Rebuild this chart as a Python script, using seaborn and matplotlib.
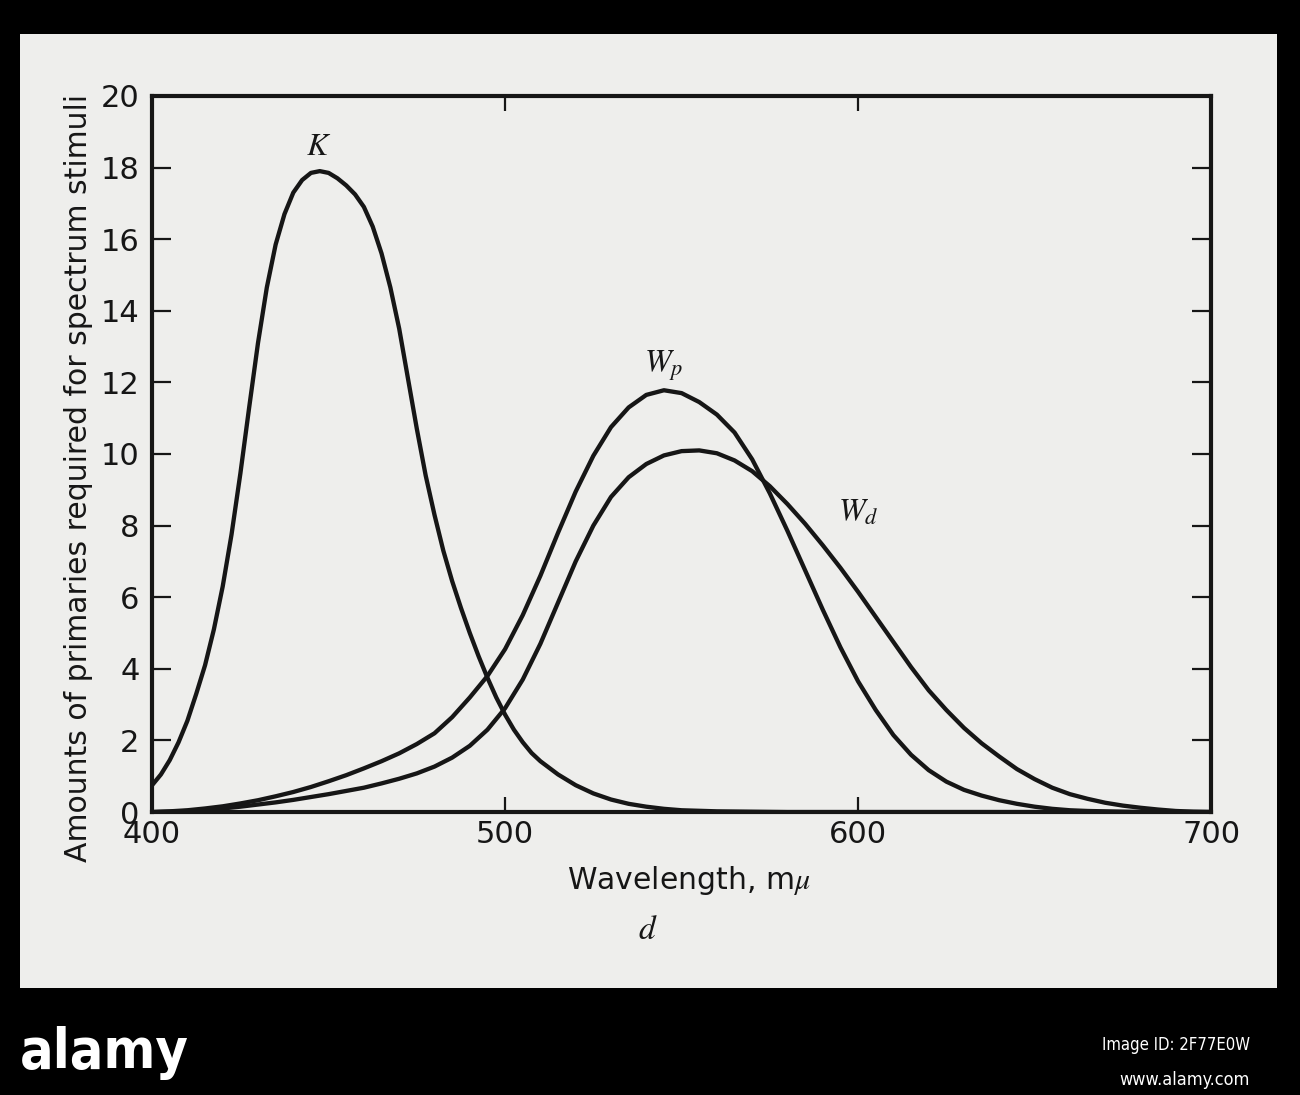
import numpy as np
import pandas as pd
import matplotlib
matplotlib.use("Agg")
import matplotlib.pyplot as plt
import seaborn as sns
from matplotlib.patches import Rectangle

# ---------------- data ----------------
k_wavelength = [400, 402.5, 405, 407.5, 410, 412.5, 415, 417.5, 420, 422.5, 425, 427.5,
                430, 432.5, 435, 437.5, 440, 442.5, 445, 447.5, 450, 452.5, 455, 457.5,
                460, 462.5, 465, 467.5, 470, 472.5, 475, 477.5, 480, 482.5, 485, 487.5,
                490, 492.5, 495, 497.5, 500, 502.5, 505, 507.5, 510, 515, 520, 525, 530,
                535, 540, 545, 550, 560, 570, 580, 600, 650, 700]
k_amount = [0.75, 1.05, 1.45, 1.95, 2.55, 3.3, 4.1, 5.1, 6.3, 7.75, 9.45, 11.3,
            13.1, 14.65, 15.85, 16.7, 17.3, 17.65, 17.85, 17.9, 17.85, 17.7, 17.5, 17.25,
            16.9, 16.35, 15.6, 14.65, 13.5, 12.1, 10.7, 9.4, 8.3, 7.3, 6.45, 5.7,
            5.0, 4.35, 3.75, 3.2, 2.72, 2.3, 1.95, 1.65, 1.42, 1.05, 0.75, 0.52, 0.35,
            0.23, 0.15, 0.09, 0.05, 0.02, 0.01, 0.0, 0.0, 0.0, 0.0]

w_wavelength = [400, 405, 410, 415, 420, 425, 430, 435, 440, 445, 450, 455, 460, 465,
                470, 475, 480, 485, 490, 495, 500, 505, 510, 515, 520, 525, 530, 535,
                540, 545, 550, 555, 560, 565, 570, 575, 580, 585, 590, 595, 600, 605,
                610, 615, 620, 625, 630, 635, 640, 645, 650, 655, 660, 665, 670, 675,
                680, 685, 690, 695, 700]
wp_amount = [0.0, 0.02, 0.05, 0.1, 0.16, 0.24, 0.33, 0.44, 0.56, 0.7, 0.86, 1.03, 1.22, 1.42,
             1.64, 1.9, 2.2, 2.65, 3.2, 3.8, 4.55, 5.5, 6.6, 7.8, 8.95, 9.95, 10.75, 11.3,
             11.65, 11.78, 11.7, 11.45, 11.1, 10.6, 9.85, 8.9, 7.85, 6.75, 5.65, 4.6, 3.65, 2.85,
             2.15, 1.6, 1.17, 0.85, 0.62, 0.46, 0.33, 0.23, 0.15, 0.09, 0.05, 0.03, 0.02, 0.01,
             0.0, 0.0, 0.0, 0.0, 0.0]
wd_amount = [0.0, 0.01, 0.03, 0.06, 0.1, 0.15, 0.21, 0.27, 0.34, 0.42, 0.5, 0.59, 0.68, 0.8,
             0.93, 1.08, 1.27, 1.52, 1.85, 2.3, 2.9, 3.7, 4.7, 5.85, 7.0, 8.0, 8.8, 9.35,
             9.72, 9.96, 10.08, 10.1, 10.02, 9.82, 9.52, 9.1, 8.6, 8.05, 7.45, 6.82, 6.15, 5.45,
             4.75, 4.05, 3.4, 2.85, 2.35, 1.92, 1.55, 1.2, 0.92, 0.68, 0.5, 0.37, 0.26, 0.18,
             0.12, 0.07, 0.03, 0.01, 0.0]

x_ticks = [400, 500, 600, 700]
y_ticks = [0, 2, 4, 6, 8, 10, 12, 14, 16, 18, 20]

curve_labels = ["$K$", "$W_p$", "$W_d$"]
label_pos = [(447.2, 18.6), (545.0, 12.45), (600.0, 8.36)]

x_title = "Wavelength, m$\\mu$"
y_title = "Amounts of primaries required for spectrum stimuli"
panel_letter = "$d$"

# ---------------- styling ----------------
PANEL = "#eeeeec"
INK = "#161616"

sns.set_theme(style="ticks")
plt.rcParams["font.family"] = ["DejaVu Sans"]
plt.rcParams["mathtext.fontset"] = "stix"

fig = plt.figure(figsize=(13, 10.95), dpi=100, facecolor="black")
panel = Rectangle((0.0154, 0.0977), 0.967, 0.871, transform=fig.transFigure,
                  facecolor=PANEL, edgecolor="none", zorder=-10)
fig.add_artist(panel)

ax = fig.add_axes([0.117, 0.2584, 0.8146, 0.654])
ax.set_zorder(5)
ax.set_facecolor(PANEL)

df_k = pd.DataFrame({"wavelength": k_wavelength, "amount": k_amount})
df_wp = pd.DataFrame({"wavelength": w_wavelength, "amount": wp_amount})
df_wd = pd.DataFrame({"wavelength": w_wavelength, "amount": wd_amount})

for df in (df_k, df_wp, df_wd):
    sns.lineplot(data=df, x="wavelength", y="amount", ax=ax, color=INK, lw=3.1,
                 estimator=None, sort=False, legend=False, zorder=3,
                 solid_joinstyle="round", solid_capstyle="round")

ax.set_xlim(400, 700)
ax.set_ylim(0, 20)
ax.set_xticks(x_ticks)
ax.set_xticklabels([str(t) for t in x_ticks])
ax.set_yticks(y_ticks)
ax.set_yticklabels([str(t) for t in y_ticks])

for s in ax.spines.values():
    s.set_visible(True)
    s.set_color(INK)
    s.set_linewidth(3.0)

ax.tick_params(axis="y", which="both", direction="in", left=True, right=True,
               length=14, width=1.6, color=INK, labelsize=22, labelcolor=INK, pad=9)
ax.tick_params(axis="x", which="both", direction="in", bottom=True, top=True,
               length=11, width=1.6, color=INK, labelsize=22, labelcolor=INK, pad=6)

for txt, (x, y) in zip(curve_labels, label_pos):
    ax.text(x, y, txt, ha="center", va="center", fontsize=23, color=INK)

ax.set_xlabel(x_title, fontsize=21.5, color=INK)
ax.xaxis.set_label_coords(0.507, -0.072)
ax.set_ylabel(y_title, fontsize=21.5, color=INK)
ax.yaxis.set_label_coords(-0.056, 0.466)

fig.text(0.4985, 0.1507, panel_letter, ha="center", va="center", fontsize=24, color=INK)

# bottom banner
fig.text(0.0154, (1095 - 1068) / 1095, "alamy", color="white", fontsize=40,
         family="DejaVu Sans", stretch="condensed", weight="bold", ha="left", va="baseline")
fig.text(1250 / 1300, (1095 - 1045) / 1095, "Image ID: 2F77E0W", color="white", fontsize=12,
         family="DejaVu Sans", stretch="condensed", ha="right", va="center")
fig.text(1250 / 1300, (1095 - 1080) / 1095, "www.alamy.com", color="white", fontsize=13,
         family="DejaVu Sans", stretch="condensed", ha="right", va="center")

fig.savefig("out.png", dpi=100, facecolor="black")
